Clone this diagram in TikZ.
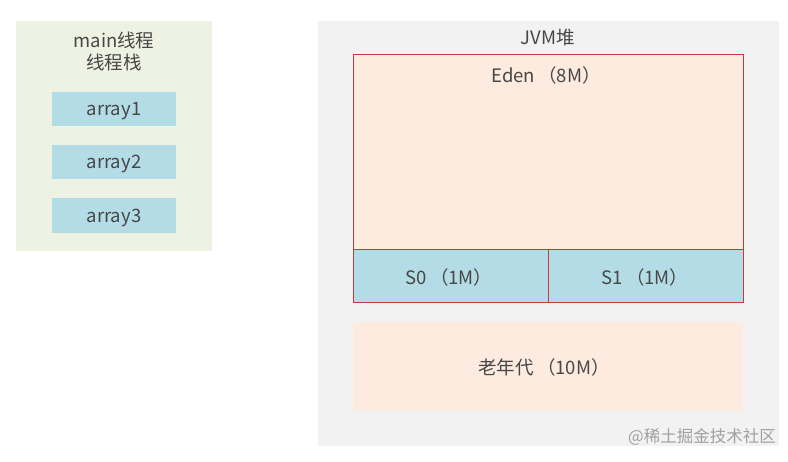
\documentclass[tikz,border=0pt]{standalone}
\usepackage{fontspec}
\setmainfont{Noto Sans CJK SC}
\definecolor{stackbg}{HTML}{EEF2E2}
\definecolor{heapbg}{HTML}{F2F2F2}
\definecolor{cellblue}{HTML}{B3DCE6}
\definecolor{peach}{HTML}{FDEBE0}
\definecolor{edgered}{HTML}{C8383A}
\definecolor{txt}{HTML}{474747}
\definecolor{wm}{HTML}{A0A0A0}
\tikzset{
  lbl/.style={text=txt, font=\fontsize{18.5}{21}\selectfont, inner sep=0pt},
  arr/.style={fill=cellblue, draw=none},
}
\begin{document}
\begin{tikzpicture}[x=1pt,y=-1pt]
\useasboundingbox (0,0) rectangle (788,462);
% left panel
\fill[stackbg] (16,21) rectangle (212,251);
\node[lbl] (t1) at (114,40) {main线程};
\node[lbl] (t2) at (114,62) {线程栈};
\fill[arr] (52,92) rectangle (176,126);
\node[lbl] (a1) at (114,111) {array1};
\fill[arr] (52,145) rectangle (176,179);
\node[lbl] (a2) at (114,164) {array2};
\fill[arr] (52,198) rectangle (176,233);
\node[lbl] (a3) at (114,217.5) {array3};
% heap
\fill[heapbg] (318,21) rectangle (779,446);
\node[lbl] (jvm) at (548,38) {JVM堆};
\filldraw[peach, draw=edgered, line width=1pt] (353,55) rectangle (743,250);
\node[lbl] (eden) at (546,75) {Eden\,（8M）};
\filldraw[fill=cellblue, draw=edgered, line width=1pt] (353,250) rectangle (548,303);
\node[lbl] (s0) at (449,277) {S0\,（1M）};
\filldraw[fill=cellblue, draw=edgered, line width=1pt] (548,250) rectangle (743,303);
\node[lbl] (s1) at (645,277) {S1\,（1M）};
\fill[peach] (353,322) rectangle (743,411);
\node[lbl] (old) at (544,367) {老年代\,（10M）};
\node[text=wm, font=\fontsize{16.5}{19}\selectfont, inner sep=0pt, anchor=east] (wmk) at (776,437) {@稀土掘金技术社区};
\end{tikzpicture}
\end{document}
